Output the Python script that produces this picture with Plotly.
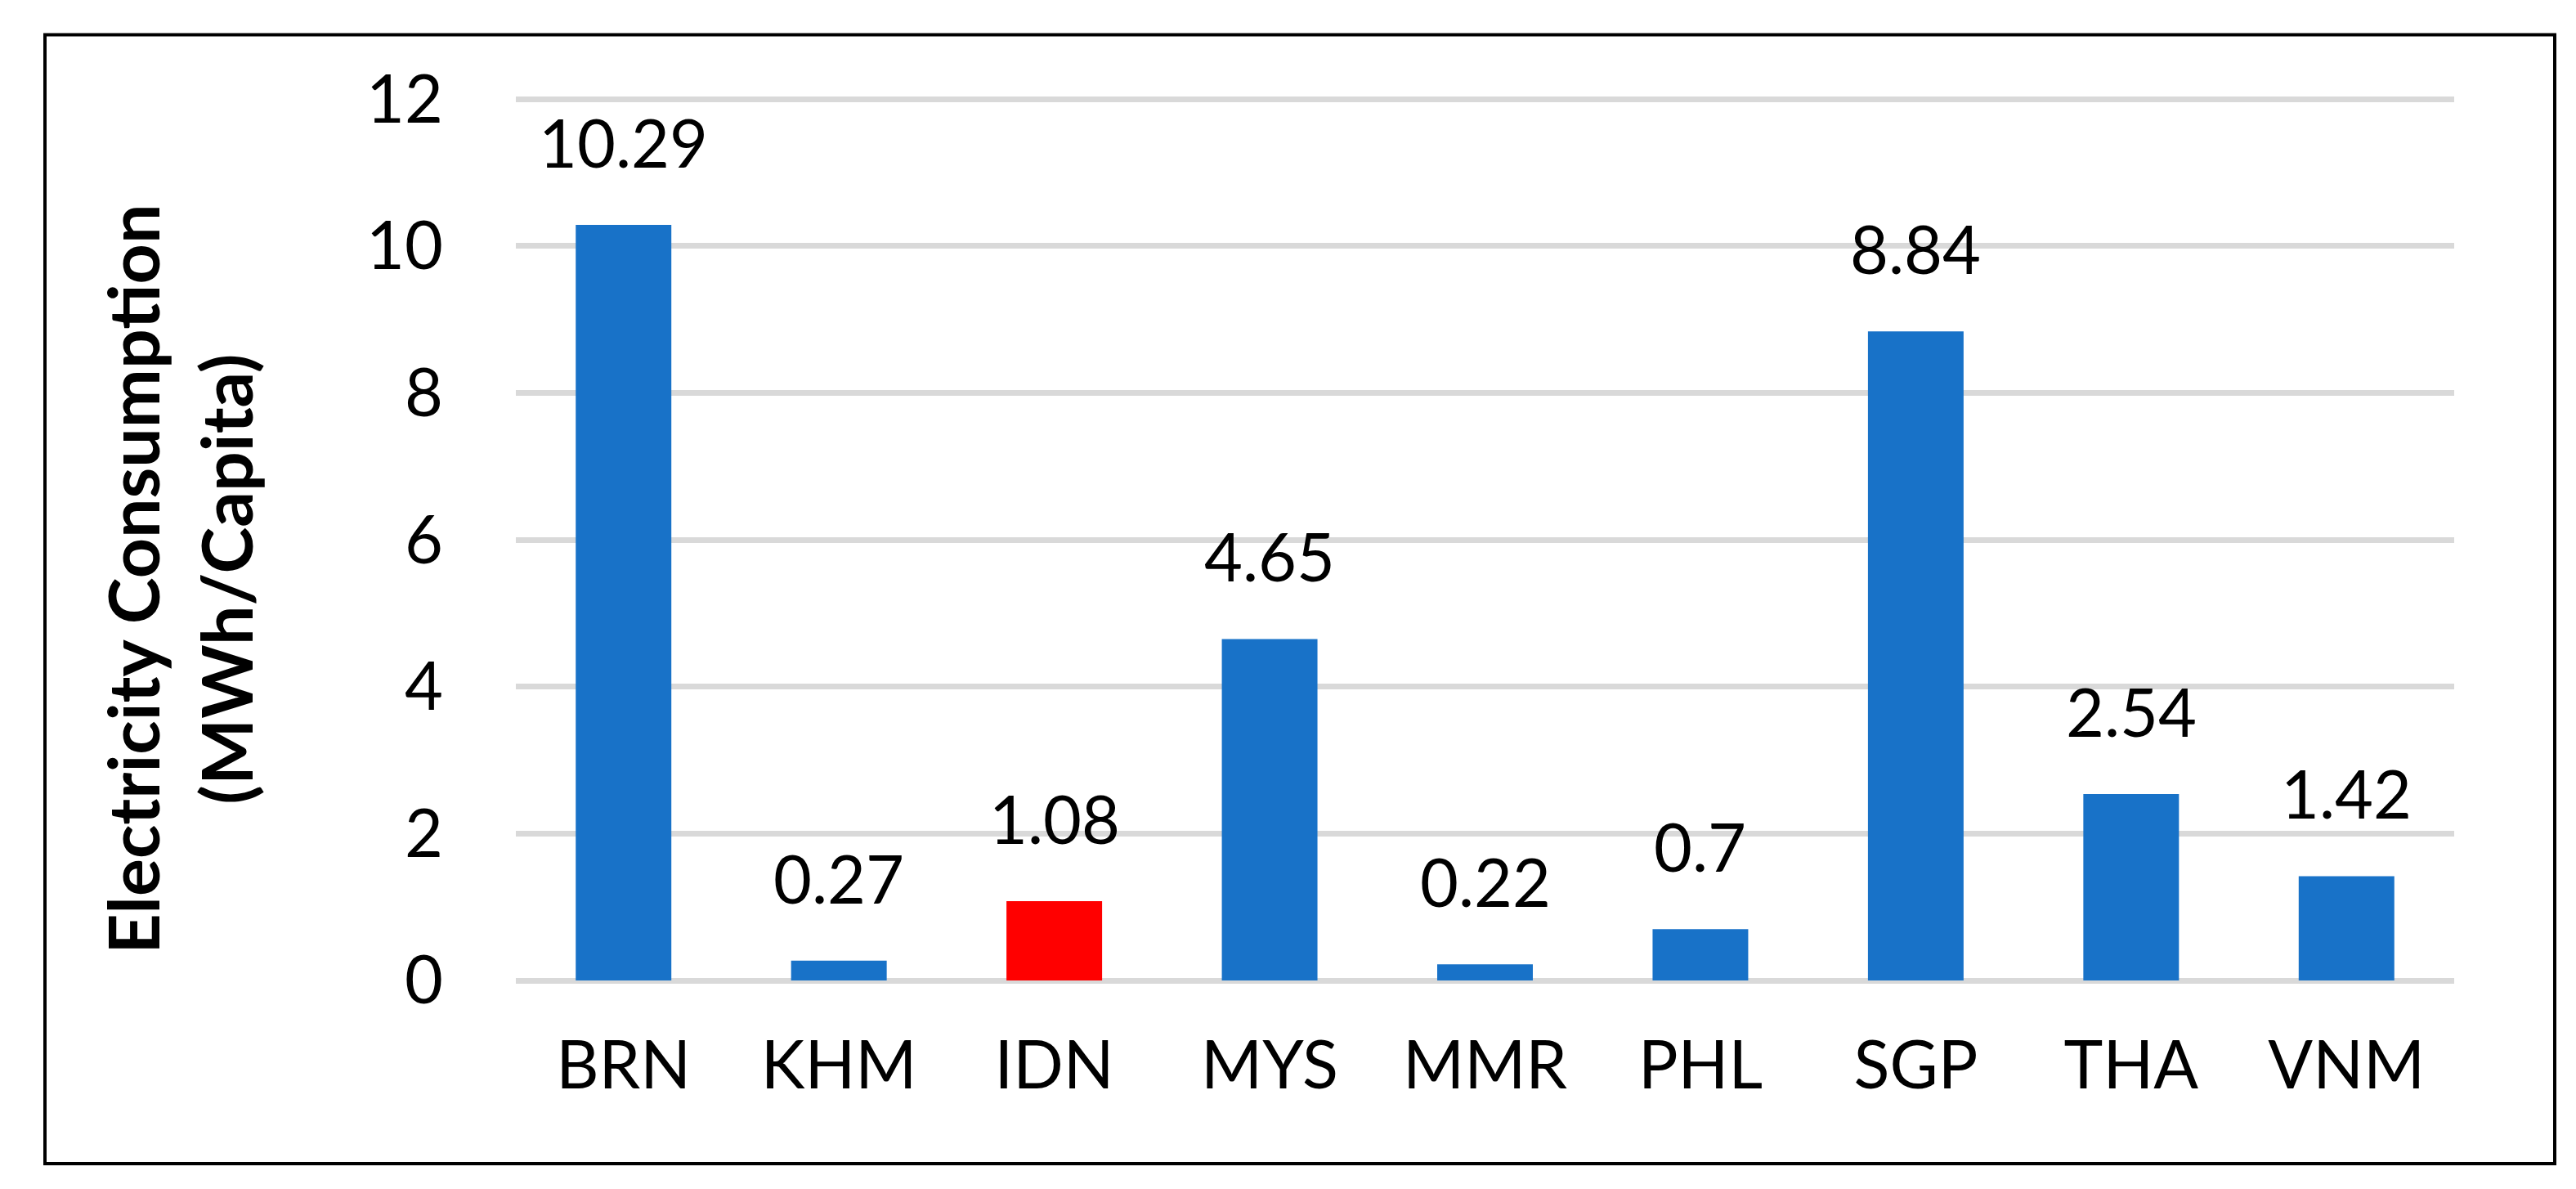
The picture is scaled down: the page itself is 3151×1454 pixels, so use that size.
import plotly.graph_objects as go

# ---- data ----
countries = ["BRN", "KHM", "IDN", "MYS", "MMR", "PHL", "SGP", "THA", "VNM"]
consumption = [10.29, 0.27, 1.08, 4.65, 0.22, 0.7, 8.84, 2.54, 1.42]
highlight = "IDN"
y_ticks = [0, 2, 4, 6, 8, 10, 12]
y_title_lines = ["Electricity Consumption", "(MWh/Capita)"]

# ---- style / layout constants ----
W, H = 3151, 1454
Y_MAX_PX = 113          # pixel row of the top tick (12)
PL, PR, PB = 623, 2994, 1191
Y_TOP = 12.06           # small headroom so the top gridline is not clipped
px_per_unit = (PB - Y_MAX_PX) / y_ticks[-1]
PT = PB - Y_TOP * px_per_unit

BLUE = "#1872C8"
RED = "#FF0000"
GRID = "#D9D9D9"
FONT = "Lato"
FS = 81
TITLE_FS = 86

colors = [RED if c == highlight else BLUE for c in countries]

fig = go.Figure()
fig.add_trace(go.Bar(
    x=countries, y=consumption, marker=dict(color=colors, line=dict(width=0)),
    hoverinfo="x+y", showlegend=False,
))

pw, ph = PR - PL, PB - PT

annotations = []
for c, v in zip(countries, consumption):
    annotations.append(dict(
        x=c, y=v, xref="x", yref="y", text=f"{v:g}", showarrow=False,
        yanchor="bottom", xanchor="center", yshift=51,
        font=dict(family=FONT, size=FS, color="black"),
    ))

title_cy = (PB - 700) / ph
for line, cx in zip(y_title_lines, [153.5, 267.5]):
    annotations.append(dict(
        x=0, y=title_cy, xref="paper", yref="paper", text=f"<b>{line}</b>",
        showarrow=False, textangle=-90, xanchor="center", yanchor="middle",
        xshift=cx - PL, font=dict(family=FONT, size=TITLE_FS, color="black"),
    ))

# outer border
bx0, by0, bx1, by1 = 47, 34, 3117, 1415
shapes = [dict(
    type="rect", xref="paper", yref="paper",
    x0=(bx0 - PL) / pw, x1=(bx1 - PL) / pw,
    y0=(PB - by1) / ph, y1=(PB - by0) / ph,
    line=dict(color="black", width=4), fillcolor="rgba(0,0,0,0)", layer="below",
)]

fig.update_layout(
    width=W, height=H,
    margin=dict(l=PL, r=W - PR, t=PT, b=H - PB, pad=0),
    paper_bgcolor="white", plot_bgcolor="white",
    bargap=0.556,
    font=dict(family=FONT, size=FS, color="black"),
    annotations=annotations, shapes=shapes,
    xaxis=dict(
        showgrid=False, showline=False, zeroline=False, ticks="",
        tickfont=dict(family=FONT, size=FS, color="black"),
        ticklabelstandoff=50,
    ),
    yaxis=dict(
        range=[0, Y_TOP], tickvals=y_ticks, ticktext=[str(t) for t in y_ticks],
        showgrid=True, gridcolor=GRID, gridwidth=7,
        zeroline=True, zerolinecolor=GRID, zerolinewidth=7,
        showline=False, ticks="",
        tickfont=dict(family=FONT, size=FS, color="black"),
        ticklabelstandoff=88,
    ),
)

fig.write_html("out.html")
